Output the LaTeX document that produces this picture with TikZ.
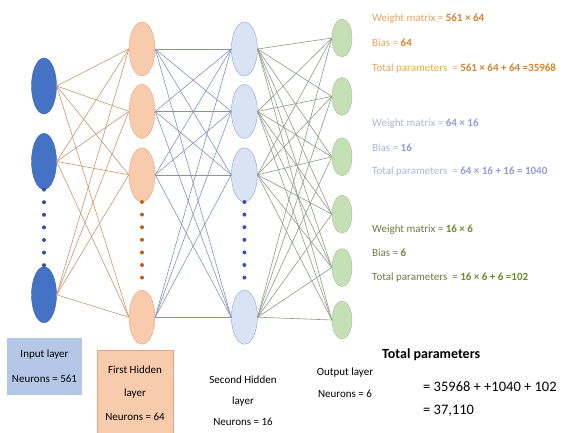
\documentclass[tikz,border=0pt]{standalone}
\usepackage{fontspec}
\setmainfont{Carlito}
\usepackage{tikz}
\usetikzlibrary{positioning, shapes.geometric}

\definecolor{inFill}{HTML}{4472C4}
\definecolor{inLine}{HTML}{3A63AD}
\definecolor{hAFill}{HTML}{F8CBAD}
\definecolor{hALine}{HTML}{E2A47C}
\definecolor{hBFill}{HTML}{DAE3F3}
\definecolor{hBLine}{HTML}{8FA3CF}
\definecolor{outFill}{HTML}{C5E0B4}
\definecolor{outLine}{HTML}{A3BE8E}
\definecolor{wA}{HTML}{C9976A}
\definecolor{wB}{HTML}{7F93C0}
\definecolor{wC}{HTML}{8E9A86}
\definecolor{txtA}{HTML}{E3A55E}
\definecolor{numA}{HTML}{D4822E}
\definecolor{txtB}{HTML}{A9B5DC}
\definecolor{numB}{HTML}{8F9ED2}
\definecolor{txtC}{HTML}{6E7A42}
\definecolor{numC}{HTML}{6A8A2C}
\definecolor{boxA}{HTML}{B4C7E7}
\definecolor{boxB}{HTML}{F8CBAD}
\definecolor{dotIn}{HTML}{2F4F9A}
\definecolor{dotA}{HTML}{C0601A}
\definecolor{dotB}{HTML}{3355AA}

\begin{document}
\begin{tikzpicture}[x=1pt, y=-1pt,
  InN/.style={ellipse, draw=inLine, fill=inFill, minimum width=25pt, minimum height=56pt, inner sep=0pt},
  HAN/.style={ellipse, draw=hALine, fill=hAFill, minimum width=26pt, minimum height=54pt, inner sep=0pt},
  HBN/.style={ellipse, draw=hBLine, fill=hBFill, minimum width=26pt, minimum height=54pt, inner sep=0pt},
  OutN/.style={ellipse, draw=outLine, fill=outFill, minimum width=20pt, minimum height=38pt, inner sep=0pt},
  Dots/.style={line width=4pt, line cap=round, dash pattern=on 0pt off 12.6pt},
  Txt/.style={anchor=base west, inner sep=0pt, align=left}]
  \useasboundingbox (0,0) rectangle (562,433);
  % input layer
  \node [InN] (in1) at (44,86) {};
  \node [InN, below =19pt of in1] (in2) {};
  \node [InN, below =77pt of in2] (in3) {};
  % first hidden layer
  \node [HAN] (hA1) at (142,49) {};
  \node [HAN, below =8pt of hA1] (hA2) {};
  \node [HAN, below =9pt of hA2] (hA3) {};
  \node [HAN, below =88pt of hA3] (hA4) {};
  % second hidden layer
  \node [HBN, right =76pt of hA1] (hB1) {};
  \node [HBN, below =8pt of hB1] (hB2) {};
  \node [HBN, below =9pt of hB2] (hB3) {};
  \node [HBN, below =88pt of hB3] (hB4) {};
  % output layer
  \node [OutN] (out1) at (342,38) {};
  \node [OutN, below =20pt of out1] (out2) {};
  \node [OutN, below =22pt of out2] (out3) {};
  \node [OutN, below =19pt of out3] (out4) {};
  \node [OutN, below =15pt of out4] (out5) {};
  \node [OutN, below =14pt of out5] (out6) {};
  % weights
  \foreach \a in {1,...,3} \foreach \b in {1,...,4}
    \draw[wA, line width=0.6pt] (in\a.east) -- (hA\b.west);
  \foreach \a in {1,...,4} \foreach \b in {1,...,4}
    \draw[wB, line width=0.6pt] (hA\a.east) -- (hB\b.west);
  \foreach \a in {1,...,4} \foreach \b in {1,...,6}
    \draw[wC, line width=0.6pt] (hB\a.east) -- (out\b.west);
  \draw[Dots, dotIn] (in2.south) -- (in3.north);
  \draw[Dots, dotA] (hA3.south) -- (hA4.north);
  \draw[Dots, dotB] (hB3.south) -- (hB4.north);
  % parameter counts (anchored at the last line)
  \node [Txt, text=txtA, font=\fontsize{11}{25}\selectfont] (parA) at (372,72)
    {Weight matrix = \textbf{\color{numA}561 × 64}\\
     Bias = \textbf{\color{numA}64}\\
     Total parameters\ \ = \textbf{\color{numA}561 × 64 + 64 =35968}};
  \node [Txt, text=txtB, font=\fontsize{11}{24}\selectfont] (parB) at (372,175)
    {Weight matrix = \textbf{\color{numB}64 × 16}\\
     Bias = \textbf{\color{numB}16}\\
     Total parameters\ \ = \textbf{\color{numB}64 × 16 + 16 = 1040}};
  \node [Txt, text=txtC, font=\fontsize{11}{24}\selectfont] (parC) at (372,280)
    {Weight matrix = \textbf{\color{numC}16 × 6}\\
     Bias = \textbf{\color{numC}6}\\
     Total parameters\ \ = \textbf{\color{numC}16 × 6 + 6 =102}};
  % layer labels
  \node [fill=boxA, minimum width=75pt, minimum height=57pt, align=center,
    font=\fontsize{11}{25}\selectfont] (inLab) at (44.5,366.5) {Input layer\\Neurons = 561};
  \node [fill=boxB, draw=hALine, minimum width=76pt, minimum height=86pt, align=center,
    font=\fontsize{11}{23.5}\selectfont] (hALab) at (135,393) {First Hidden\\layer\\Neurons = 64};
  \node [align=center, font=\fontsize{11}{21}\selectfont] (hBLab) at (243,401)
    {Second Hidden\\layer\\Neurons = 16};
  \node [align=center, font=\fontsize{11}{22}\selectfont] (outLab) at (345,383)
    {Output layer\\Neurons = 6};
  % total
  \node [Txt, font=\bfseries\fontsize{14}{17}\selectfont] (tot) at (382,358) {Total parameters};
  \node [Txt, font=\fontsize{14.5}{23}\selectfont] (sum) at (423,414) {= 35968 + +1040 + 102\\= 37,110};
\end{tikzpicture}
\end{document}
